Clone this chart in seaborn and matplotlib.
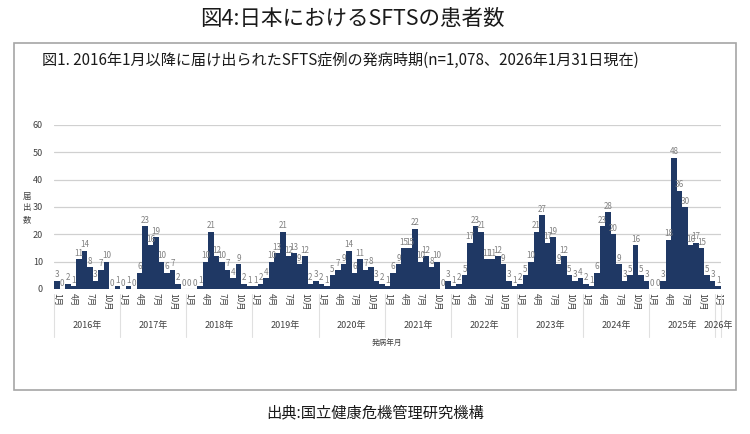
import matplotlib
matplotlib.use("Agg")
import matplotlib.pyplot as plt
import matplotlib.transforms as mtransforms
from matplotlib.patches import Rectangle
import seaborn as sns
import pandas as pd

# ---- data (monthly reported SFTS cases by onset month) ----
cases_2016 = [3, 0, 2, 1, 11, 14, 8, 3, 7, 10, 0, 1]
cases_2017 = [0, 1, 0, 6, 23, 16, 19, 10, 6, 7, 2, 0]
cases_2018 = [0, 0, 1, 10, 21, 12, 10, 7, 4, 9, 2, 1]
cases_2019 = [1, 2, 4, 10, 13, 21, 12, 13, 9, 12, 2, 3]
cases_2020 = [2, 1, 5, 7, 9, 14, 6, 11, 7, 8, 3, 2]
cases_2021 = [1, 6, 9, 15, 15, 22, 10, 12, 8, 10, 0, 3]
cases_2022 = [1, 2, 5, 17, 23, 21, 11, 11, 12, 9, 3, 1]
cases_2023 = [2, 5, 10, 21, 27, 17, 19, 9, 12, 5, 3, 4]
cases_2024 = [2, 1, 6, 23, 28, 20, 9, 3, 5, 16, 5, 3]
cases_2025 = [0, 0, 3, 18, 48, 36, 30, 16, 17, 15, 5, 3]
cases_2026 = [1]

years = ["2016年", "2017年", "2018年", "2019年", "2020年", "2021年",
         "2022年", "2023年", "2024年", "2025年", "2026年"]

title = "図4:日本におけるSFTSの患者数"
subtitle = "図1. 2016年1月以降に届け出られたSFTS症例の発病時期(n=1,078、2026年1月31日現在)"
ylabel_chars = ["届", "出", "数"]
xlabel = "発病年月"
source = "出典:国立健康危機管理研究機構"

yearly = [cases_2016, cases_2017, cases_2018, cases_2019, cases_2020, cases_2021,
          cases_2022, cases_2023, cases_2024, cases_2025, cases_2026]

rows = []
for y, vals in zip(years, yearly):
    for m, v in enumerate(vals):
        rows.append({"year": y, "month": m + 1, "cases": v})
df = pd.DataFrame(rows)
df["idx"] = range(len(df))

# ---- style ----
sns.set_theme(style="white")
plt.rcParams["font.family"] = ["Noto Sans CJK JP", "DejaVu Sans"]

W, H = 750, 434
fig = plt.figure(figsize=(W / 100, H / 100), dpi=100)
ax = fig.add_axes([54 / W, (H - 289) / H, (721 - 54) / W, (289 - 125) / H])

navy = "#1f3864"
sns.barplot(data=df, x="idx", y="cases", color=navy, saturation=1, width=1.0,
            ax=ax, errorbar=None)
for p in ax.patches:
    p.set_edgecolor("none")

ax.bar_label(ax.containers[0], labels=[str(v) for v in df["cases"]],
             fontsize=5.8, color="#808080", padding=1)

ax.set_xlim(-0.5, len(df) - 0.5)
ax.set_ylim(0, 60)
ax.set_yticks([0, 10, 20, 30, 40, 50, 60])
ax.yaxis.grid(True, color="#d0d0d0", linewidth=0.9)
ax.set_axisbelow(True)
for s in ax.spines.values():
    s.set_visible(False)

# month ticks
tick_pos, tick_lab = [], []
for i, row in df.iterrows():
    if row["month"] in (1, 4, 7, 10):
        tick_pos.append(row["idx"])
        tick_lab.append(f"{row['month']}月")
ax.set_xticks(tick_pos)
ax.set_xticklabels(tick_lab, rotation=270, fontsize=6, color="#404040")
ax.tick_params(axis="x", length=0, pad=3)
ax.tick_params(axis="y", length=0, pad=8, labelsize=6.5, labelcolor="#404040")
ax.set_xlabel("")
ax.set_ylabel("")

# year separators and labels
trans = mtransforms.blended_transform_factory(ax.transData, ax.transAxes)
start = 0
for y, vals in zip(years, yearly):
    ax.plot([start - 0.5, start - 0.5], [-0.03, -0.29], transform=trans,
            color="#e0e0e0", lw=0.8, clip_on=False)
    center = start + (len(vals) - 1) / 2
    ax.text(center, -0.225, y, transform=trans, ha="center", va="center",
            fontsize=6.5, color="#404040")
    start += len(vals)
ax.plot([start - 0.5, start - 0.5], [-0.03, -0.29], transform=trans,
        color="#e0e0e0", lw=0.8, clip_on=False)

ax.text(0.5, -0.33, xlabel, transform=ax.transAxes, ha="center", va="center",
        fontsize=5.5, color="#404040")

for k, ch in enumerate(ylabel_chars):
    fig.text(27 / W, 1 - (196 + 12 * k) / H, ch, ha="center", va="center",
             fontsize=6, color="#404040")

# frame, titles, source
fig.patches.append(Rectangle((14 / W, 1 - 390 / H), 722 / W, (390 - 43) / H,
                             transform=fig.transFigure, fill=False,
                             edgecolor="#a6a6a6", lw=1.2))
fig.text(352 / W, 1 - 19 / H, title, ha="center", va="center", fontsize=15.5,
         color="#1a1a1a")
fig.text(42 / W, 1 - 60 / H, subtitle, ha="left", va="center", fontsize=10.9,
         color="#1a1a1a")
fig.text(0.5, 1 - 413 / H, source, ha="center", va="center", fontsize=11,
         color="#1a1a1a")

fig.savefig("out.png", dpi=100)
